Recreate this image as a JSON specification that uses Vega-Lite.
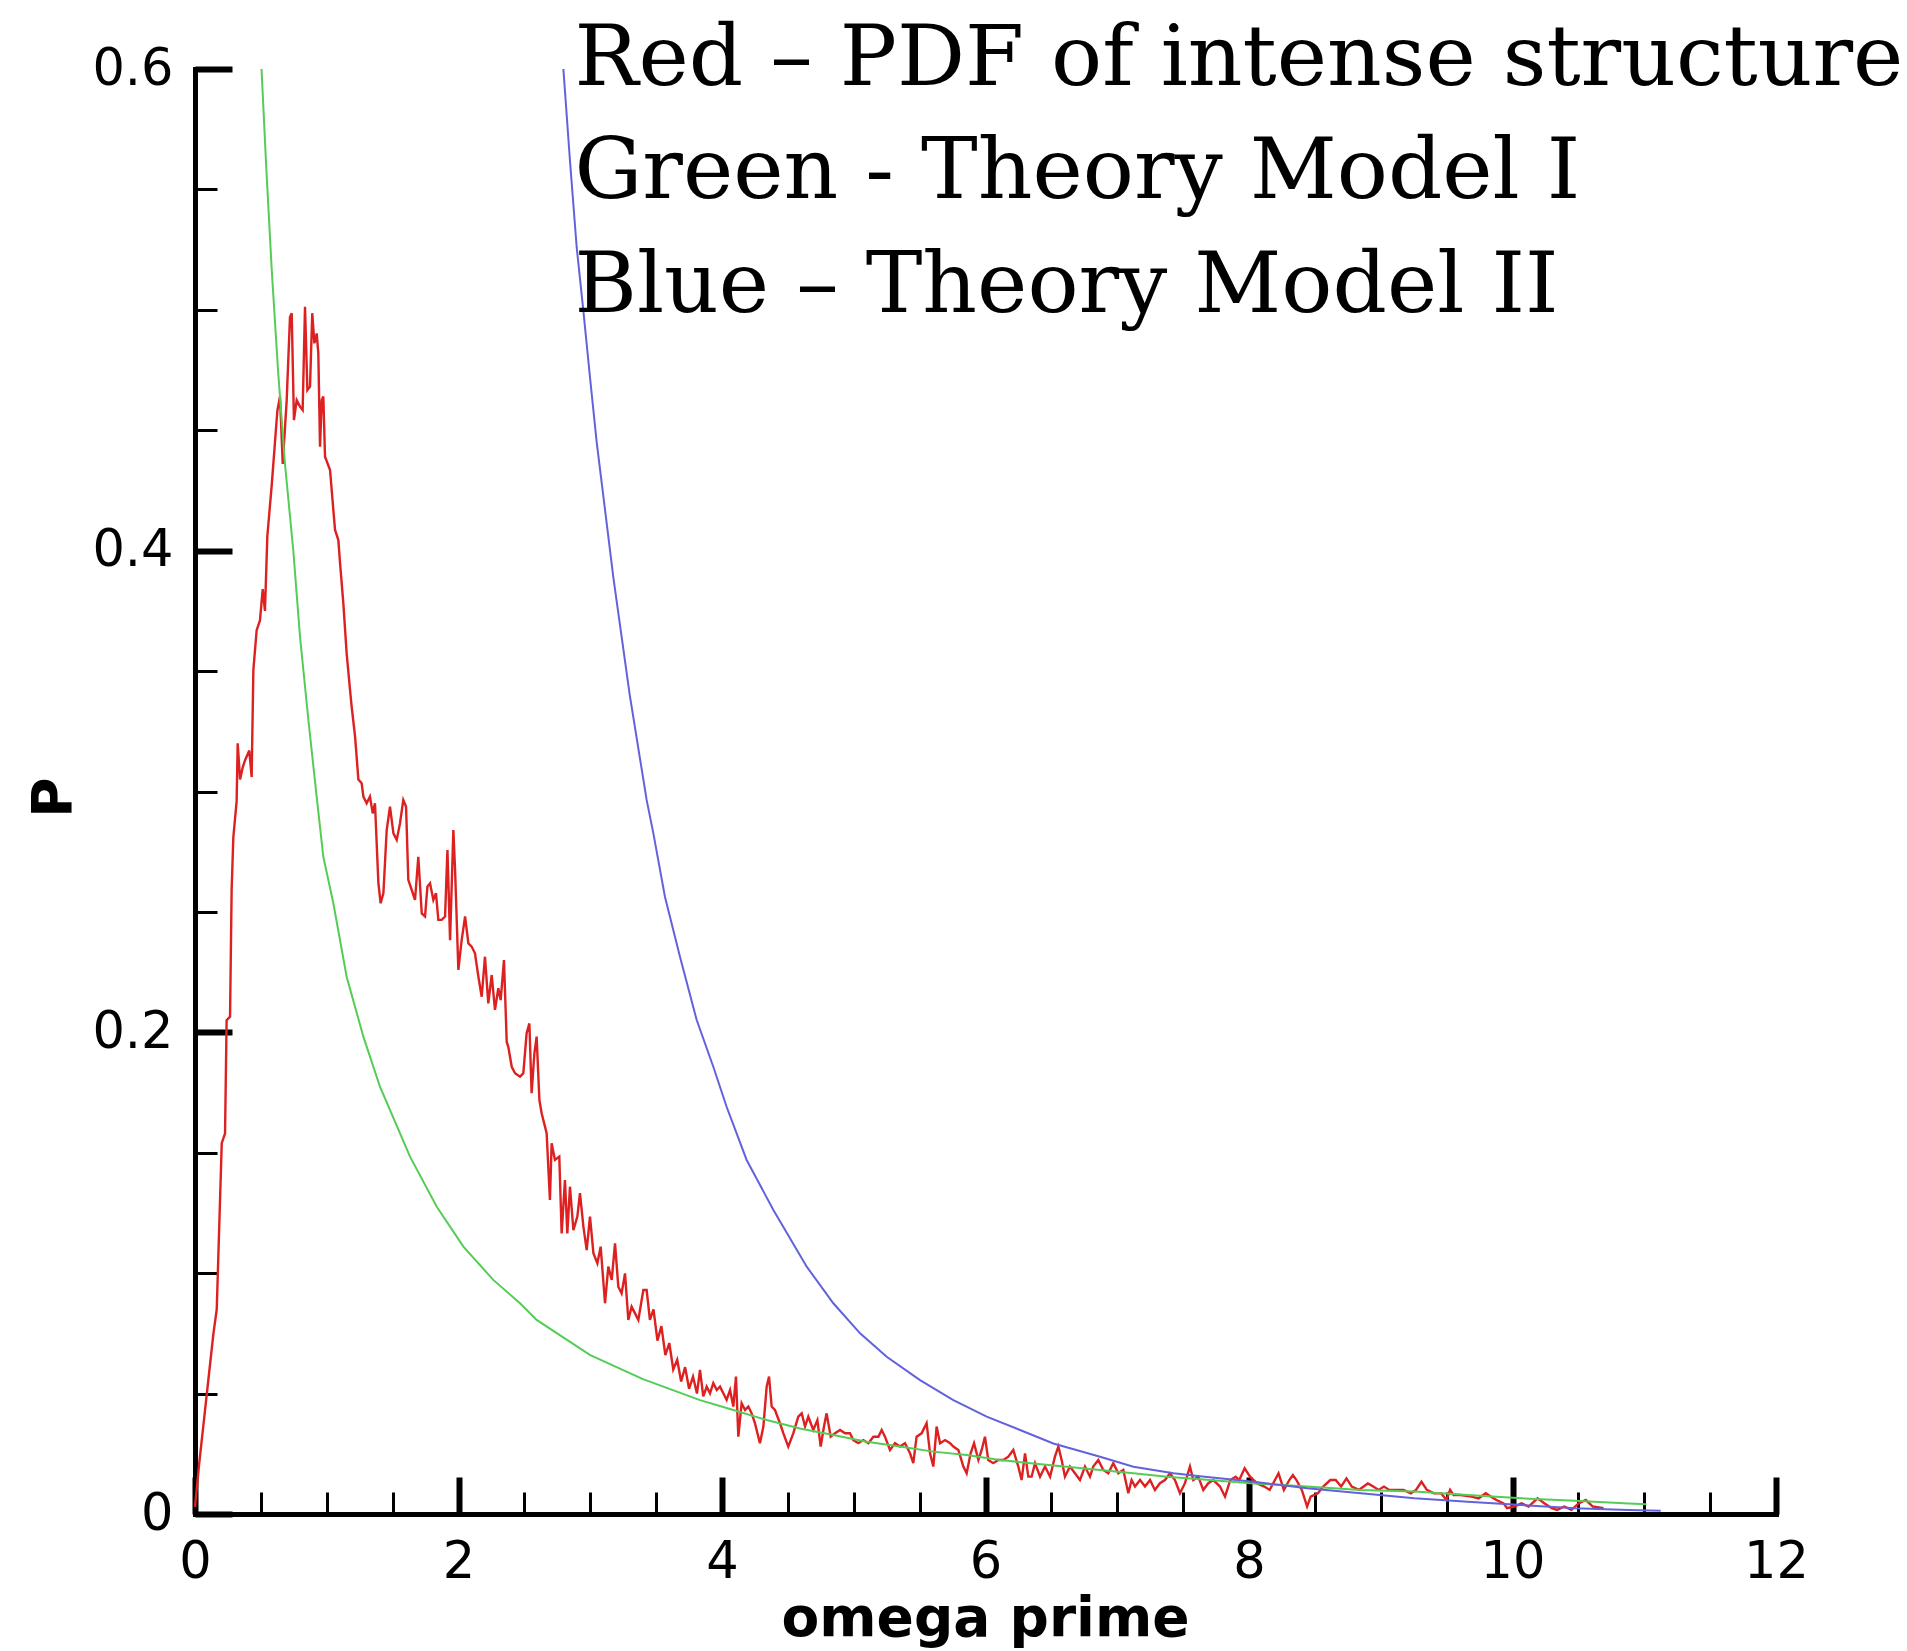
{
  "$schema": "https://vega.github.io/schema/vega-lite/v6.json",
  "width": 1581,
  "height": 1445,
  "autosize": {"type": "none"},
  "padding": {"left": 195, "top": 69, "right": 131, "bottom": 137},
  "background": "white",
  "config": {"view": {"stroke": null}, "axis": {"grid": false}},
  "datasets": {
    "red": [
      {"w":0,"p":0.003},{"w":0.03,"p":0.02},{"w":0.07,"p":0.04},{"w":0.11,"p":0.06},{"w":0.14,"p":0.075},{"w":0.165,"p":0.085},{"w":0.203,"p":0.154},{"w":0.228,"p":0.158},{"w":0.24,"p":0.205},{"w":0.266,"p":0.2065},{"w":0.278,"p":0.259},{"w":0.291,"p":0.281},{"w":0.316,"p":0.296},{"w":0.324,"p":0.32},{"w":0.342,"p":0.305},{"w":0.362,"p":0.31},{"w":0.38,"p":0.313},{"w":0.412,"p":0.317},{"w":0.43,"p":0.306},{"w":0.443,"p":0.3505},{"w":0.468,"p":0.367},{"w":0.493,"p":0.371},{"w":0.514,"p":0.384},{"w":0.531,"p":0.375},{"w":0.549,"p":0.406},{"w":0.582,"p":0.427},{"w":0.607,"p":0.445},{"w":0.625,"p":0.458},{"w":0.645,"p":0.464},{"w":0.666,"p":0.436},{"w":0.696,"p":0.4625},{"w":0.721,"p":0.497},{"w":0.734,"p":0.4986},{"w":0.751,"p":0.4542},{"w":0.772,"p":0.4625},{"w":0.797,"p":0.4598},{"w":0.817,"p":0.4584},{"w":0.835,"p":0.5013},{"w":0.853,"p":0.4667},{"w":0.873,"p":0.4681},{"w":0.89,"p":0.4986},{"w":0.906,"p":0.4861},{"w":0.924,"p":0.4902},{"w":0.936,"p":0.4819},{"w":0.949,"p":0.4432},{"w":0.962,"p":0.4625},{"w":0.974,"p":0.464},{"w":0.987,"p":0.439},{"w":1.025,"p":0.4335},{"w":1.05,"p":0.4169},{"w":1.063,"p":0.4086},{"w":1.088,"p":0.4044},{"w":1.101,"p":0.3948},{"w":1.126,"p":0.3781},{"w":1.151,"p":0.3574},{"w":1.177,"p":0.342},{"w":1.189,"p":0.3352},{"w":1.215,"p":0.3228},{"w":1.24,"p":0.305},{"w":1.265,"p":0.3034},{"w":1.278,"p":0.2979},{"w":1.303,"p":0.2951},{"w":1.328,"p":0.2979},{"w":1.349,"p":0.2909},{"w":1.366,"p":0.2951},{"w":1.392,"p":0.2619},{"w":1.409,"p":0.2536},{"w":1.43,"p":0.2578},{"w":1.455,"p":0.284},{"w":1.48,"p":0.2937},{"w":1.506,"p":0.2826},{"w":1.531,"p":0.2799},{"w":1.556,"p":0.2868},{"w":1.581,"p":0.2965},{"w":1.602,"p":0.2937},{"w":1.619,"p":0.2633},{"w":1.645,"p":0.2591},{"w":1.67,"p":0.255},{"w":1.695,"p":0.2729},{"w":1.721,"p":0.2494},{"w":1.746,"p":0.2481},{"w":1.764,"p":0.2605},{"w":1.784,"p":0.2619},{"w":1.809,"p":0.255},{"w":1.829,"p":0.2578},{"w":1.847,"p":0.2467},{"w":1.872,"p":0.2467},{"w":1.898,"p":0.2481},{"w":1.916,"p":0.2757},{"w":1.936,"p":0.2383},{"w":1.961,"p":0.284},{"w":1.974,"p":0.2674},{"w":1.999,"p":0.2259},{"w":2.024,"p":0.2383},{"w":2.05,"p":0.2481},{"w":2.075,"p":0.2369},{"w":2.1,"p":0.2356},{"w":2.125,"p":0.2328},{"w":2.151,"p":0.2231},{"w":2.176,"p":0.2148},{"w":2.201,"p":0.2314},{"w":2.226,"p":0.212},{"w":2.252,"p":0.2238},{"w":2.277,"p":0.2093},{"w":2.302,"p":0.2183},{"w":2.32,"p":0.2134},{"w":2.345,"p":0.23},{"w":2.366,"p":0.196},{"w":2.378,"p":0.194},{"w":2.404,"p":0.1857},{"w":2.429,"p":0.183},{"w":2.467,"p":0.1816},{"w":2.492,"p":0.183},{"w":2.517,"p":0.1996},{"w":2.538,"p":0.2037},{"w":2.555,"p":0.1747},{"w":2.576,"p":0.1913},{"w":2.593,"p":0.1982},{"w":2.614,"p":0.1719},{"w":2.631,"p":0.1664},{"w":2.669,"p":0.1581},{"w":2.694,"p":0.1304},{"w":2.707,"p":0.1539},{"w":2.732,"p":0.147},{"w":2.765,"p":0.1484},{"w":2.783,"p":0.1165},{"w":2.808,"p":0.1387},{"w":2.826,"p":0.1165},{"w":2.846,"p":0.1359},{"w":2.872,"p":0.1179},{"w":2.902,"p":0.1235},{"w":2.922,"p":0.1332},{"w":2.948,"p":0.1193},{"w":2.973,"p":0.1096},{"w":2.998,"p":0.1235},{"w":3.024,"p":0.1083},{"w":3.054,"p":0.1041},{"w":3.079,"p":0.111},{"w":3.112,"p":0.0875},{"w":3.137,"p":0.1027},{"w":3.163,"p":0.0972},{"w":3.188,"p":0.1124},{"w":3.213,"p":0.0944},{"w":3.238,"p":0.0916},{"w":3.264,"p":0.0999},{"w":3.289,"p":0.0806},{"w":3.314,"p":0.0861},{"w":3.365,"p":0.0806},{"w":3.403,"p":0.093},{"w":3.428,"p":0.093},{"w":3.453,"p":0.0806},{"w":3.48,"p":0.085},{"w":3.51,"p":0.072},{"w":3.54,"p":0.078},{"w":3.57,"p":0.066},{"w":3.6,"p":0.071},{"w":3.63,"p":0.06},{"w":3.66,"p":0.064},{"w":3.69,"p":0.055},{"w":3.72,"p":0.061},{"w":3.75,"p":0.052},{"w":3.78,"p":0.057},{"w":3.81,"p":0.05},
      {"w":3.833,"p":0.0598},{"w":3.858,"p":0.0488},{"w":3.884,"p":0.0529},{"w":3.909,"p":0.0501},{"w":3.934,"p":0.0543},{"w":3.96,"p":0.0515},{"w":3.985,"p":0.0529},{"w":4.01,"p":0.0501},{"w":4.035,"p":0.0474},{"w":4.061,"p":0.0515},{"w":4.086,"p":0.0446},{"w":4.106,"p":0.0571},{"w":4.124,"p":0.0321},{"w":4.149,"p":0.046},{"w":4.175,"p":0.0432},{"w":4.2,"p":0.0446},{"w":4.225,"p":0.0418},{"w":4.25,"p":0.0377},{"w":4.288,"p":0.0294},{"w":4.314,"p":0.0363},{"w":4.339,"p":0.0529},{"w":4.357,"p":0.0571},{"w":4.377,"p":0.0446},{"w":4.402,"p":0.0432},{"w":4.44,"p":0.0377},{"w":4.466,"p":0.0335},{"w":4.503,"p":0.028},{"w":4.541,"p":0.0335},{"w":4.579,"p":0.0404},{"w":4.605,"p":0.0418},{"w":4.63,"p":0.0363},{"w":4.655,"p":0.0404},{"w":4.693,"p":0.0349},{"w":4.724,"p":0.039},{"w":4.749,"p":0.028},{"w":4.774,"p":0.0363},{"w":4.794,"p":0.0418},{"w":4.825,"p":0.0321},{"w":4.858,"p":0.0335},{"w":4.896,"p":0.0349},{"w":4.934,"p":0.0335},{"w":4.971,"p":0.0335},{"w":4.997,"p":0.0307},{"w":5.035,"p":0.0294},{"w":5.073,"p":0.0307},{"w":5.111,"p":0.0294},{"w":5.149,"p":0.0321},{"w":5.187,"p":0.0321},{"w":5.212,"p":0.0349},{"w":5.237,"p":0.0321},{"w":5.275,"p":0.0266},{"w":5.313,"p":0.0294},{"w":5.351,"p":0.028},{"w":5.389,"p":0.0294},{"w":5.427,"p":0.0252},{"w":5.452,"p":0.0211},{"w":5.477,"p":0.0321},{"w":5.515,"p":0.0335},{"w":5.553,"p":0.0377},{"w":5.579,"p":0.0252},{"w":5.604,"p":0.0197},{"w":5.629,"p":0.0363},{"w":5.655,"p":0.0294},{"w":5.693,"p":0.0307},{"w":5.731,"p":0.0294},{"w":5.756,"p":0.028},{"w":5.794,"p":0.0266},{"w":5.832,"p":0.0197},{"w":5.857,"p":0.0169},{"w":5.887,"p":0.0252},{"w":5.913,"p":0.0294},{"w":5.946,"p":0.0224},{"w":5.971,"p":0.0266},{"w":5.996,"p":0.0321},{"w":6.021,"p":0.0224},{"w":6.059,"p":0.0211},{"w":6.097,"p":0.0224},{"w":6.135,"p":0.0224},{"w":6.173,"p":0.0238},{"w":6.211,"p":0.0266},{"w":6.249,"p":0.0197},{"w":6.274,"p":0.0141},{"w":6.3,"p":0.0252},{"w":6.325,"p":0.0155},{"w":6.35,"p":0.0155},{"w":6.376,"p":0.0211},{"w":6.414,"p":0.0155},{"w":6.452,"p":0.0197},{"w":6.49,"p":0.0155},{"w":6.527,"p":0.0238},{"w":6.553,"p":0.028},{"w":6.578,"p":0.0224},{"w":6.603,"p":0.0155},{"w":6.641,"p":0.0197},{"w":6.679,"p":0.0169},{"w":6.717,"p":0.0141},{"w":6.755,"p":0.0197},{"w":6.793,"p":0.0155},{"w":6.818,"p":0.0197},{"w":6.856,"p":0.0224},{"w":6.894,"p":0.0183},{"w":6.932,"p":0.0169},{"w":6.97,"p":0.0211},{"w":7.008,"p":0.0169},{"w":7.046,"p":0.0183},{"w":7.084,"p":0.0086},{"w":7.109,"p":0.0141},{"w":7.135,"p":0.0114},{"w":7.173,"p":0.0141},{"w":7.211,"p":0.0114},{"w":7.249,"p":0.0141},{"w":7.286,"p":0.01},{"w":7.324,"p":0.0128},{"w":7.362,"p":0.0141},{"w":7.4,"p":0.0169},{"w":7.438,"p":0.0141},{"w":7.476,"p":0.0086},{"w":7.514,"p":0.0128},{"w":7.552,"p":0.0197},{"w":7.577,"p":0.0141},{"w":7.615,"p":0.0155},{"w":7.653,"p":0.01},{"w":7.691,"p":0.0128},{"w":7.729,"p":0.0141},{"w":7.78,"p":0.0114},
      {"w":7.818,"p":0.0072},{"w":7.858,"p":0.0141},{"w":7.899,"p":0.0155},{"w":7.926,"p":0.0141},{"w":7.967,"p":0.019},{"w":8.008,"p":0.0155},{"w":8.062,"p":0.0127},{"w":8.116,"p":0.0114},{"w":8.157,"p":0.01},{"w":8.197,"p":0.0141},{"w":8.224,"p":0.0169},{"w":8.265,"p":0.01},{"w":8.306,"p":0.0141},{"w":8.333,"p":0.0162},{"w":8.36,"p":0.0141},{"w":8.401,"p":0.01},{"w":8.441,"p":0.0031},{"w":8.468,"p":0.0072},{"w":8.523,"p":0.0086},{"w":8.563,"p":0.0114},{"w":8.617,"p":0.0141},{"w":8.658,"p":0.0141},{"w":8.699,"p":0.0114},{"w":8.74,"p":0.0148},{"w":8.78,"p":0.0114},{"w":8.834,"p":0.01},{"w":8.902,"p":0.0127},{"w":8.943,"p":0.0114},{"w":8.984,"p":0.01},{"w":9.024,"p":0.0114},{"w":9.065,"p":0.01},{"w":9.119,"p":0.01},{"w":9.173,"p":0.01},{"w":9.228,"p":0.0086},{"w":9.268,"p":0.01},{"w":9.309,"p":0.0134},{"w":9.35,"p":0.01},{"w":9.404,"p":0.0086},{"w":9.458,"p":0.0086},{"w":9.499,"p":0.0058},{"w":9.526,"p":0.01},{"w":9.553,"p":0.0079},{"w":9.607,"p":0.0079},{"w":9.688,"p":0.0072},{"w":9.743,"p":0.0065},{"w":9.797,"p":0.0086},{"w":9.837,"p":0.0072},{"w":9.878,"p":0.0058},{"w":9.932,"p":0.0044},{"w":9.959,"p":0.0024},{"w":10.014,"p":0.0031},{"w":10.068,"p":0.0044},{"w":10.122,"p":0.0031},{"w":10.19,"p":0.0065},{"w":10.244,"p":0.0044},{"w":10.298,"p":0.0024},{"w":10.339,"p":0.0017},{"w":10.393,"p":0.0031},{"w":10.447,"p":0.0017},{"w":10.502,"p":0.0044},{"w":10.556,"p":0.0058},{"w":10.61,"p":0.0031},{"w":10.691,"p":0.0024}
    ],
    "green": [
      {"w":0.505,"p":0.6},{"w":0.54,"p":0.56},{"w":0.582,"p":0.517},{"w":0.63,"p":0.475},{"w":0.683,"p":0.436},{"w":0.746,"p":0.4},{"w":0.797,"p":0.3643},{"w":0.86,"p":0.33},{"w":0.918,"p":0.3006},{"w":0.974,"p":0.2729},{"w":1.05,"p":0.2536},{"w":1.151,"p":0.2231},{"w":1.278,"p":0.1982},{"w":1.404,"p":0.1774},{"w":1.632,"p":0.1484},{"w":1.835,"p":0.1276},{"w":2.037,"p":0.111},{"w":2.264,"p":0.0972},{"w":2.467,"p":0.0875},{"w":2.593,"p":0.0806},{"w":3.0,"p":0.066},{"w":3.4,"p":0.056},{"w":3.833,"p":0.0473},{"w":4.086,"p":0.0432},{"w":4.339,"p":0.039},{"w":4.592,"p":0.0355},{"w":4.845,"p":0.0328},{"w":5.098,"p":0.03},{"w":5.351,"p":0.028},{"w":5.604,"p":0.0259},{"w":5.857,"p":0.0245},{"w":6.11,"p":0.0224},{"w":6.363,"p":0.021},{"w":6.616,"p":0.0196},{"w":6.87,"p":0.0183},{"w":7.123,"p":0.0169},{"w":7.376,"p":0.0155},{"w":7.63,"p":0.0144},{"w":8.035,"p":0.0127},{"w":8.441,"p":0.0114},{"w":8.848,"p":0.01},{"w":9.255,"p":0.0093},{"w":9.661,"p":0.0079},{"w":10.068,"p":0.0065},{"w":10.474,"p":0.0055},{"w":10.881,"p":0.0044},{"w":11.017,"p":0.0041}
    ],
    "blue": [
      {"w":2.796,"p":0.6},{"w":2.846,"p":0.562},{"w":2.897,"p":0.526},{"w":2.947,"p":0.5},{"w":2.998,"p":0.472},{"w":3.049,"p":0.445},{"w":3.112,"p":0.417},{"w":3.175,"p":0.389},{"w":3.3,"p":0.34},{"w":3.428,"p":0.2965},{"w":3.479,"p":0.2826},{"w":3.567,"p":0.2563},{"w":3.681,"p":0.2314},{"w":3.808,"p":0.2051},{"w":3.934,"p":0.1857},{"w":4.035,"p":0.1691},{"w":4.187,"p":0.147},{"w":4.39,"p":0.1262},{"w":4.643,"p":0.1027},{"w":4.845,"p":0.0875},{"w":5.048,"p":0.075},{"w":5.25,"p":0.0653},{"w":5.503,"p":0.0556},{"w":5.756,"p":0.0473},{"w":6.009,"p":0.0404},{"w":6.262,"p":0.0349},{"w":6.515,"p":0.0293},{"w":6.87,"p":0.0238},{"w":7.123,"p":0.0196},{"w":7.427,"p":0.0169},{"w":7.628,"p":0.0157},{"w":8.035,"p":0.0134},{"w":8.441,"p":0.0107},{"w":8.848,"p":0.0086},{"w":9.255,"p":0.0065},{"w":9.661,"p":0.0051},{"w":10.068,"p":0.0037},{"w":10.474,"p":0.0024},{"w":10.881,"p":0.0017},{"w":11.125,"p":0.0014}
    ]
  },
  "layer": [
    {
      "data": {"name": "red"},
      "mark": {"type": "line", "color": "#dd2020", "strokeWidth": 2.4},
      "encoding": {
        "x": {"field": "w", "type": "quantitative", "scale": {"domain": [0, 12], "nice": false, "zero": false},
          "axis": {"orient": "bottom", "values": [0, 2, 4, 6, 8, 10, 12], "format": "~g",
            "domain": true, "domainColor": "black", "domainWidth": 5, "domainCap": "square",
            "ticks": true, "tickColor": "black", "tickWidth": 6, "tickSize": -37,
            "labelFont": "DejaVu Sans", "labelFontSize": 51, "labelColor": "black", "labelPadding": 60,
            "labelFlush": false, "labelOverlap": false,
            "title": "omega prime", "titleFont": "DejaVu Sans", "titleFontSize": 55, "titleFontWeight": "bold",
            "titleColor": "black", "titleX": 790, "titleY": 121, "titleBaseline": "alphabetic", "titleAlign": "center"}},
        "y": {"field": "p", "type": "quantitative", "scale": {"domain": [0, 0.6], "nice": false},
          "axis": {"orient": "left", "values": [0, 0.2, 0.4, 0.6], "format": "~g",
            "domain": true, "domainColor": "black", "domainWidth": 5, "domainCap": "square",
            "ticks": true, "tickColor": "black", "tickWidth": 6, "tickSize": -37,
            "labelFont": "DejaVu Sans", "labelFontSize": 51, "labelColor": "black", "labelPadding": 59,
            "labelFlush": false, "labelOverlap": false,
            "title": "P", "titleFont": "DejaVu Sans", "titleFontSize": 55, "titleFontWeight": "bold",
            "titleColor": "black", "titleAngle": -90, "titleX": -125, "titleY": 728, "titleBaseline": "alphabetic", "titleAlign": "center"}}
      }
    },
    {
      "data": {"name": "green"},
      "mark": {"type": "line", "color": "#55cc55", "strokeWidth": 2},
      "encoding": {
        "x": {"field": "w", "type": "quantitative",
          "axis": {"orient": "bottom", "values": [0.5, 1, 1.5, 2.5, 3, 3.5, 4.5, 5, 5.5, 6.5, 7, 7.5, 8.5, 9, 9.5, 10.5, 11, 11.5],
            "domain": false, "labels": false, "title": null, "ticks": true, "tickColor": "black", "tickWidth": 3, "tickSize": -22}},
        "y": {"field": "p", "type": "quantitative",
          "axis": {"orient": "left", "values": [0.05, 0.1, 0.15, 0.25, 0.3, 0.35, 0.45, 0.5, 0.55],
            "domain": false, "labels": false, "title": null, "ticks": true, "tickColor": "black", "tickWidth": 3, "tickSize": -22}}
      }
    },
    {
      "data": {"name": "blue"},
      "mark": {"type": "line", "color": "#6262dd", "strokeWidth": 2},
      "encoding": {
        "x": {"field": "w", "type": "quantitative", "axis": null},
        "y": {"field": "p", "type": "quantitative", "axis": null}
      }
    },
    {
      "data": {"values": [{}]},
      "mark": {"type": "text", "text": "Red – PDF of intense structure", "font": "DejaVu Serif", "fontSize": 85, "align": "left", "baseline": "alphabetic", "color": "black"},
      "encoding": {"x": {"datum": 2.88, "type": "quantitative", "axis": null}, "y": {"datum": 0.5934, "type": "quantitative", "axis": null}}
    },
    {
      "data": {"values": [{}]},
      "mark": {"type": "text", "text": "Green - Theory Model I", "font": "DejaVu Serif", "fontSize": 85, "align": "left", "baseline": "alphabetic", "color": "black"},
      "encoding": {"x": {"datum": 2.88, "type": "quantitative", "axis": null}, "y": {"datum": 0.5465, "type": "quantitative", "axis": null}}
    },
    {
      "data": {"values": [{}]},
      "mark": {"type": "text", "text": "Blue – Theory Model II", "font": "DejaVu Serif", "fontSize": 85, "align": "left", "baseline": "alphabetic", "color": "black"},
      "encoding": {"x": {"datum": 2.88, "type": "quantitative", "axis": null}, "y": {"datum": 0.4991, "type": "quantitative", "axis": null}}
    }
  ],
  "resolve": {"axis": {"x": "independent", "y": "independent"}}
}
